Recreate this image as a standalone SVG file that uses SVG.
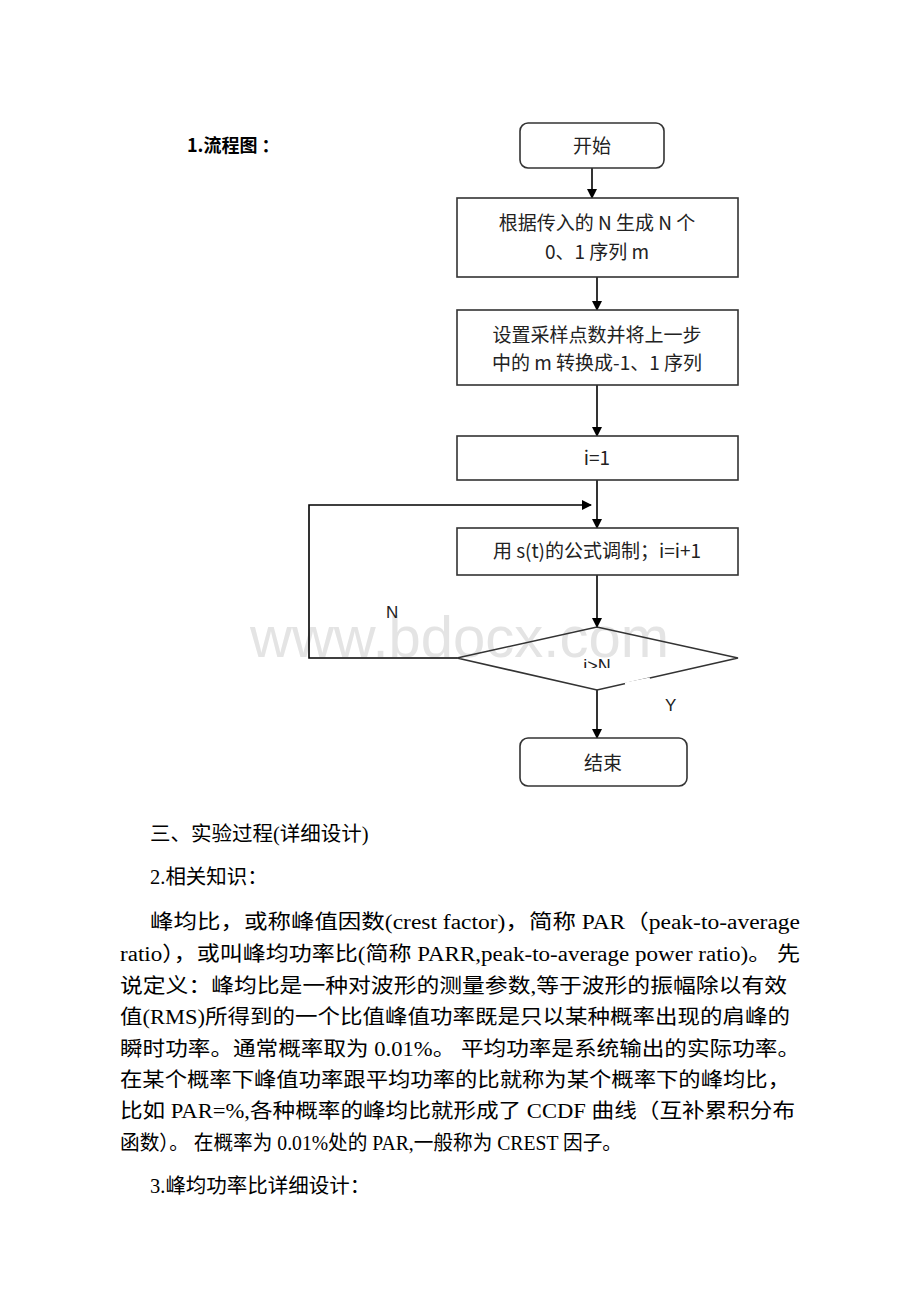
<svg xmlns="http://www.w3.org/2000/svg" width="920" height="1302" viewBox="0 0 920 1302">
<defs>
<marker id="ah" markerWidth="10" markerHeight="10" refX="9" refY="5" orient="auto" markerUnits="userSpaceOnUse"><path d="M0,0 L10,5 L0,10 Z" fill="#000"/></marker>
<clipPath id="dc"><rect x="560" y="650" width="80" height="18"/></clipPath>
<style>
.box{fill:#fff;stroke:#333;stroke-width:1.6}
.dia{fill:none;stroke:#333;stroke-width:1.6}
.ln{fill:none;stroke:#000;stroke-width:1.6}
.ft{font-family:"Noto Sans CJK SC","Noto Sans",sans-serif;font-size:19px;fill:#222;text-anchor:middle}
.lb{font-family:"Liberation Sans",sans-serif;font-size:17px;fill:#222}
.bd{font-family:"Liberation Serif","Noto Sans CJK SC",serif;font-size:20.5px;fill:#000}
</style>
</defs>
<rect width="920" height="1302" fill="#fff"/>
<text x="187" y="152" style="font-family:'Noto Sans CJK SC',sans-serif;font-size:18px;font-weight:bold" fill="#000">1.流程图 ：</text>
<text x="250" y="657" style="font-family:'Liberation Sans',sans-serif;font-size:58px" fill="#e4e4e4">www.bdocx.com</text>
<g id="connectors">
<line class="ln" x1="592" y1="168" x2="592" y2="198" marker-end="url(#ah)"/>
<line class="ln" x1="597" y1="277" x2="597" y2="310" marker-end="url(#ah)"/>
<line class="ln" x1="597" y1="385" x2="597" y2="436" marker-end="url(#ah)"/>
<line class="ln" x1="597" y1="480" x2="597" y2="528" marker-end="url(#ah)"/>
<line class="ln" x1="597" y1="575" x2="597" y2="627" marker-end="url(#ah)"/>
<polyline class="ln" points="457,658 309,658 309,505 591,505" marker-end="url(#ah)"/>
<line class="ln" x1="597" y1="690" x2="597" y2="738" marker-end="url(#ah)"/>
<text class="lb" x="386" y="618">N</text>
<text class="lb" x="665" y="711">Y</text>
</g>
<g id="start"><rect class="box" x="520" y="123" width="144" height="45" rx="8"/><text class="ft" x="592" y="153">开始</text></g>
<g id="gen"><rect class="box" x="457" y="198" width="281" height="79"/><text class="ft" x="597" y="230">根据传入的 N 生成 N 个</text><text class="ft" x="597" y="259">0、1 序列 m</text></g>
<g id="conv"><rect class="box" x="457" y="310" width="281" height="75"/><text class="ft" x="597" y="342">设置采样点数并将上一步</text><text class="ft" x="597" y="370">中的 m 转换成-1、1 序列</text></g>
<g id="init"><rect class="box" x="457" y="436" width="281" height="44"/><text class="ft" x="597" y="465">i=1</text></g>
<g id="mod"><rect class="box" x="457" y="528" width="281" height="47"/><text class="ft" x="597" y="558">用 s(t)的公式调制；i=i+1</text></g>
<g id="cond"><polygon class="dia" points="457,658 597,627 738,658 597,690"/><text class="ft" x="597" y="672" clip-path="url(#dc)" style="font-family:'Liberation Sans',sans-serif;font-size:18px">i&gt;N</text><line x1="625" y1="684" x2="650" y2="679" stroke="#fff" stroke-width="3"/></g>
<g id="end"><rect class="box" x="520" y="738" width="167" height="48" rx="8"/><text class="ft" x="603" y="770">结束</text></g>
<g id="body">
<text class="bd" x="150" y="841">三、实验过程(详细设计)</text>
<text class="bd" x="150" y="884">2.相关知识：</text>
<text class="bd" x="150" y="929" textLength="650" lengthAdjust="spacingAndGlyphs">峰均比，或称峰值因数(crest factor)，简称 PAR（peak-to-average</text>
<text class="bd" x="120" y="961" textLength="680" lengthAdjust="spacingAndGlyphs">ratio），或叫峰均功率比(简称 PARR,peak-to-average power ratio)。 先</text>
<text class="bd" x="120" y="993" textLength="667" lengthAdjust="spacingAndGlyphs">说定义：峰均比是一种对波形的测量参数,等于波形的振幅除以有效</text>
<text class="bd" x="120" y="1024" textLength="670" lengthAdjust="spacingAndGlyphs">值(RMS)所得到的一个比值峰值功率既是只以某种概率出现的肩峰的</text>
<text class="bd" x="120" y="1056" textLength="680" lengthAdjust="spacingAndGlyphs">瞬时功率。通常概率取为 0.01%。 平均功率是系统输出的实际功率。</text>
<text class="bd" x="120" y="1087" textLength="670" lengthAdjust="spacingAndGlyphs">在某个概率下峰值功率跟平均功率的比就称为某个概率下的峰均比，</text>
<text class="bd" x="120" y="1118" textLength="675" lengthAdjust="spacingAndGlyphs">比如 PAR=%,各种概率的峰均比就形成了 CCDF 曲线（互补累积分布</text>
<text class="bd" x="120" y="1150" textLength="502" lengthAdjust="spacingAndGlyphs">函数）。 在概率为 0.01%处的 PAR,一般称为 CREST 因子。</text>
<text class="bd" x="150" y="1193">3.峰均功率比详细设计：</text>
</g>
</svg>
